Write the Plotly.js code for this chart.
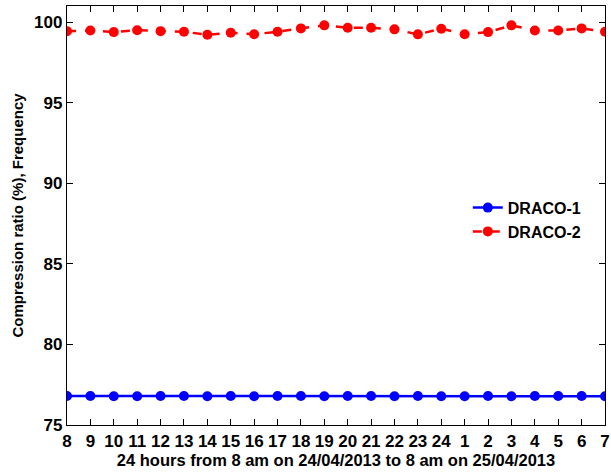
<!DOCTYPE html>
<html><head><meta charset="utf-8">
<script src="https://cdn.plot.ly/plotly-3.0.1.min.js"></script>
<style>html,body{margin:0;padding:0;background:#fff}#c{width:611px;height:473px}</style>
</head><body><div id="c"></div>
<script>
const hours = ["8","9","10","11","12","13","14","15","16","17","18","19","20","21","22","23","24","1","2","3","4","5","6","7"];
const draco1 = [76.8,76.8,76.78,76.78,76.8,76.8,76.78,76.8,76.78,76.8,76.8,76.78,76.8,76.8,76.78,76.8,76.78,76.78,76.8,76.78,76.8,76.8,76.8,76.78];
const draco2 = [99.44,99.48,99.38,99.50,99.44,99.40,99.22,99.34,99.25,99.40,99.61,99.80,99.65,99.65,99.55,99.24,99.59,99.25,99.38,99.80,99.48,99.48,99.61,99.40];
const xs = hours.map((h,i)=>i);
const fam = "Liberation Sans, Arial, sans-serif";
const traces = [
 {x:xs, y:draco1, name:"DRACO-1", mode:"lines+markers", line:{color:"#0000ff", width:2.5}, marker:{color:"#0000ff", size:10}},
 {x:xs, y:draco2, name:"DRACO-2", mode:"lines+markers", line:{color:"#ff0000", width:2.5, dash:"dash"}, marker:{color:"#ff0000", size:10}}
];
const layout = {
 width:611, height:473, margin:{l:67, r:6, t:6, b:48},
 paper_bgcolor:"#fff", plot_bgcolor:"#fff", font:{family:fam, color:"#000", size:16, weight:"bold"}, showlegend:true,
 legend:{x:0.745, y:0.49, xanchor:"left", yanchor:"middle", bgcolor:"rgba(0,0,0,0)", itemwidth:30, font:{family:fam, size:16, weight:"bold", color:"#000"}, tracegroupgap:0},
 xaxis:{range:[0,23], tickmode:"array", tickvals:xs, ticktext:hours, ticks:"inside", ticklen:6, tickcolor:"#000", showline:true, linecolor:"#000", linewidth:1.2, mirror:"ticks", showgrid:false, zeroline:false,
   ticklabeloverflow:"allow",
   tickfont:{family:fam, size:17, weight:"bold"},
   title:{text:"24 hours from 8 am on 24/04/2013 to 8 am on 25/04/2013", font:{family:fam, size:16.5, weight:"bold"}, standoff:1}},
 yaxis:{range:[75,101], tickvals:[75,80,85,90,95,100], ticks:"inside", ticklen:6, tickcolor:"#000", showline:true, linecolor:"#000", linewidth:1.2, mirror:"ticks", showgrid:false, zeroline:false,
   tickfont:{family:fam, size:17, weight:"bold"},
   title:{text:"Compression ratio (%), Frequency", font:{family:fam, size:15, weight:"bold"}, standoff:6}}
};
Plotly.newPlot("c", traces, layout, {displayModeBar:false, staticPlot:true});
</script></body></html>
